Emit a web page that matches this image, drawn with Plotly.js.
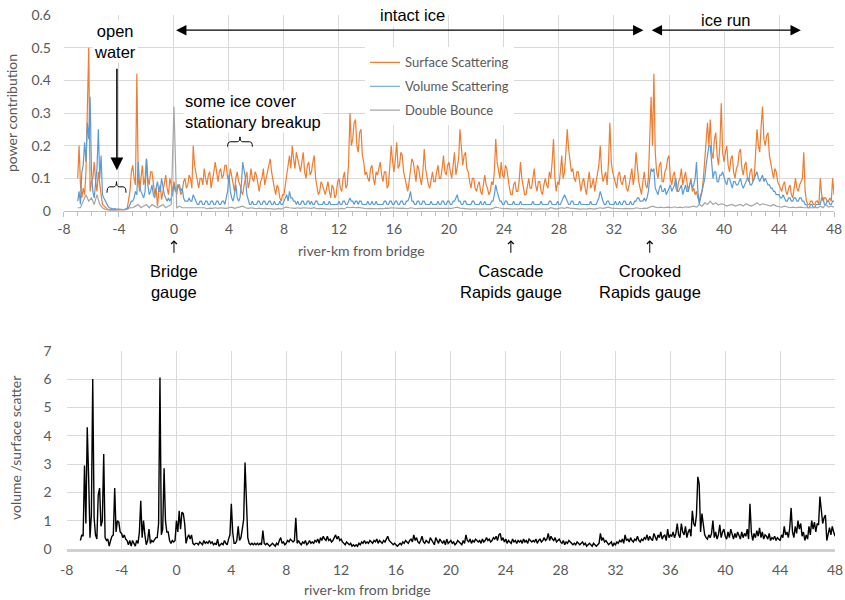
<!DOCTYPE html>
<html>
<head>
<meta charset="utf-8">
<script src="https://cdn.plot.ly/plotly-3.0.1.min.js"></script>
<style>
  html, body { margin: 0; padding: 0; background: #ffffff; }
  #chart { width: 845px; height: 600px; }
</style>
</head>
<body>
<div id="chart"></div>
<script>
// River-km sampling of the radar profiles
const kmStart = -7.0;
const fineStep = 0.1;    // surface, volume and ratio profiles (km)
const coarseStep = 0.2;  // double-bounce profile (km)

// Surface scattering power contribution, ten samples per river-km
const surface = [
  0.10, 0.20, 0.08, 0.04, 0.07, 0.05, 0.12, 0.30, 0.50, 0.06,
  0.09, 0.10, 0.15, 0.09, 0.06, 0.12, 0.075, 0.05, 0.02, 0.015,
  0.01, 0.008, 0.005, 0.004, 0.004, 0.005, 0.005, 0.004, 0.004, 0.005,
  0.005, 0.004, 0.004, 0.005, 0.006, 0.004, 0.008, 0.03, 0.06, 0.12,
  0.14, 0.10, 0.08, 0.42, 0.10, 0.06, 0.10, 0.14, 0.08, 0.10,
  0.16, 0.10, 0.08, 0.12, 0.12, 0.08, 0.05, 0.07, 0.015, 0.06,
  0.08, 0.035, 0.06, 0.09, 0.11, 0.07, 0.05, 0.10, 0.08, 0.06,
  0.09, 0.07, 0.05, 0.08, 0.07, 0.05, 0.06, 0.09, 0.10, 0.07,
  0.08, 0.11, 0.10, 0.07, 0.20, 0.14, 0.12, 0.09, 0.07, 0.10,
  0.10, 0.08, 0.13, 0.10, 0.08, 0.11, 0.12, 0.07, 0.09, 0.12,
  0.15, 0.11, 0.09, 0.12, 0.13, 0.10, 0.11, 0.14, 0.14, 0.10,
  0.09, 0.13, 0.11, 0.08, 0.06, 0.10, 0.12, 0.09, 0.08, 0.06,
  0.05, 0.08, 0.10, 0.12, 0.07, 0.09, 0.13, 0.10, 0.09, 0.12,
  0.11, 0.08, 0.06, 0.09, 0.10, 0.13, 0.08, 0.10, 0.12, 0.14,
  0.16, 0.12, 0.09, 0.07, 0.05, 0.08, 0.07, 0.04, 0.03, 0.05,
  0.05, 0.08, 0.12, 0.15, 0.17, 0.13, 0.20, 0.16, 0.13, 0.18,
  0.16, 0.13, 0.12, 0.15, 0.18, 0.12, 0.10, 0.14, 0.15, 0.11,
  0.12, 0.15, 0.17, 0.10, 0.08, 0.05, 0.06, 0.09, 0.08, 0.06,
  0.05, 0.07, 0.09, 0.06, 0.04, 0.08, 0.07, 0.04, 0.05, 0.09,
  0.10, 0.07, 0.06, 0.10, 0.12, 0.07, 0.08, 0.15, 0.30, 0.20,
  0.22, 0.27, 0.28, 0.20, 0.18, 0.24, 0.25, 0.17, 0.15, 0.11,
  0.12, 0.10, 0.09, 0.13, 0.14, 0.10, 0.08, 0.12, 0.11, 0.13,
  0.15, 0.11, 0.09, 0.12, 0.12, 0.07, 0.08, 0.14, 0.20, 0.15,
  0.12, 0.16, 0.21, 0.13, 0.14, 0.18, 0.17, 0.12, 0.10, 0.08,
  0.06, 0.09, 0.12, 0.16, 0.15, 0.11, 0.09, 0.14, 0.13, 0.10,
  0.08, 0.12, 0.19, 0.13, 0.10, 0.08, 0.07, 0.10, 0.12, 0.09,
  0.09, 0.12, 0.14, 0.10, 0.10, 0.13, 0.17, 0.12, 0.11, 0.14,
  0.15, 0.12, 0.10, 0.14, 0.18, 0.11, 0.13, 0.16, 0.25, 0.18,
  0.14, 0.17, 0.18, 0.13, 0.12, 0.09, 0.07, 0.10, 0.10, 0.07,
  0.06, 0.08, 0.09, 0.06, 0.05, 0.08, 0.11, 0.08, 0.07, 0.05,
  0.06, 0.09, 0.08, 0.12, 0.22, 0.15, 0.12, 0.10, 0.15, 0.11,
  0.10, 0.14, 0.13, 0.09, 0.07, 0.05, 0.05, 0.08, 0.09, 0.06,
  0.06, 0.09, 0.15, 0.10, 0.08, 0.05, 0.05, 0.08, 0.10, 0.07,
  0.07, 0.10, 0.13, 0.08, 0.06, 0.09, 0.09, 0.06, 0.05, 0.08,
  0.10, 0.08, 0.07, 0.12, 0.10, 0.15, 0.22, 0.10, 0.06, 0.09,
  0.08, 0.12, 0.17, 0.10, 0.12, 0.18, 0.25, 0.19, 0.16, 0.12,
  0.13, 0.10, 0.09, 0.12, 0.12, 0.08, 0.06, 0.09, 0.10, 0.07,
  0.05, 0.09, 0.12, 0.07, 0.08, 0.10, 0.06, 0.09, 0.11, 0.14,
  0.20, 0.12, 0.09, 0.11, 0.12, 0.08, 0.15, 0.27, 0.15, 0.12,
  0.10, 0.08, 0.07, 0.11, 0.12, 0.09, 0.08, 0.10, 0.11, 0.07,
  0.06, 0.08, 0.10, 0.13, 0.08, 0.11, 0.18, 0.12, 0.09, 0.07,
  0.05, 0.09, 0.12, 0.08, 0.07, 0.10, 0.25, 0.35, 0.20, 0.42,
  0.18, 0.12, 0.10, 0.14, 0.15, 0.09, 0.09, 0.12, 0.13, 0.16,
  0.17, 0.10, 0.08, 0.11, 0.12, 0.07, 0.06, 0.09, 0.10, 0.13,
  0.08, 0.10, 0.12, 0.09, 0.06, 0.08, 0.10, 0.06, 0.07, 0.05,
  0.06, 0.04, 0.03, 0.05, 0.06, 0.10, 0.15, 0.22, 0.27, 0.20,
  0.28, 0.18, 0.16, 0.22, 0.24, 0.17, 0.14, 0.20, 0.33, 0.18,
  0.15, 0.18, 0.20, 0.14, 0.12, 0.16, 0.17, 0.12, 0.10, 0.13,
  0.14, 0.18, 0.19, 0.13, 0.11, 0.14, 0.15, 0.10, 0.09, 0.12,
  0.13, 0.09, 0.10, 0.18, 0.25, 0.20, 0.18, 0.26, 0.32, 0.22,
  0.20, 0.23, 0.24, 0.17, 0.15, 0.12, 0.10, 0.13, 0.12, 0.09,
  0.08, 0.07, 0.06, 0.08, 0.09, 0.06, 0.05, 0.07, 0.08, 0.05,
  0.04, 0.07, 0.10, 0.07, 0.06, 0.08, 0.09, 0.10, 0.18, 0.06,
  0.03, 0.02, 0.02, 0.03, 0.03, 0.02, 0.02, 0.03, 0.03, 0.02,
  0.10, 0.05, 0.03, 0.04, 0.04, 0.03, 0.03, 0.04, 0.03, 0.10,
  0.05
];

// Volume scattering power contribution, ten samples per river-km
const volume = [
  0.03, 0.06, 0.02, 0.12, 0.14, 0.21, 0.15, 0.27, 0.22, 0.35,
  0.12, 0.06, 0.04, 0.08, 0.13, 0.25, 0.10, 0.17, 0.05, 0.04,
  0.03, 0.02, 0.015, 0.01, 0.008, 0.006, 0.006, 0.008, 0.005, 0.006,
  0.005, 0.004, 0.005, 0.004, 0.005, 0.006, 0.008, 0.01, 0.02, 0.03,
  0.03, 0.04, 0.06, 0.05, 0.15, 0.08, 0.06, 0.05, 0.04, 0.06,
  0.16, 0.08, 0.05, 0.06, 0.08, 0.05, 0.04, 0.07, 0.09, 0.06,
  0.06, 0.10, 0.07, 0.05, 0.04, 0.03, 0.04, 0.03, 0.04, 0.05,
  0.08, 0.06, 0.07, 0.08, 0.08, 0.06, 0.07, 0.04, 0.03, 0.03,
  0.03, 0.04, 0.03, 0.03, 0.05, 0.04, 0.03, 0.02, 0.02, 0.03,
  0.03, 0.02, 0.02, 0.03, 0.03, 0.02, 0.02, 0.03, 0.03, 0.02,
  0.02, 0.03, 0.03, 0.02, 0.02, 0.03, 0.03, 0.02, 0.04, 0.06,
  0.11, 0.06, 0.04, 0.03, 0.05, 0.08, 0.04, 0.03, 0.04, 0.08,
  0.15, 0.12, 0.10, 0.05, 0.03, 0.02, 0.02, 0.03, 0.02, 0.02,
  0.02, 0.03, 0.03, 0.02, 0.02, 0.03, 0.03, 0.02, 0.02, 0.03,
  0.03, 0.02, 0.02, 0.03, 0.02, 0.02, 0.02, 0.03, 0.02, 0.02,
  0.03, 0.04, 0.05, 0.03, 0.06, 0.04, 0.04, 0.03, 0.03, 0.02,
  0.03, 0.02, 0.02, 0.03, 0.03, 0.02, 0.02, 0.03, 0.03, 0.02,
  0.03, 0.02, 0.02, 0.03, 0.03, 0.02, 0.02, 0.02, 0.02, 0.03,
  0.02, 0.02, 0.02, 0.03, 0.02, 0.02, 0.02, 0.02, 0.02, 0.02,
  0.03, 0.02, 0.02, 0.03, 0.03, 0.02, 0.02, 0.03, 0.04, 0.03,
  0.03, 0.02, 0.03, 0.03, 0.02, 0.03, 0.03, 0.02, 0.02, 0.02,
  0.02, 0.03, 0.02, 0.02, 0.03, 0.02, 0.02, 0.03, 0.02, 0.02,
  0.02, 0.02, 0.02, 0.03, 0.03, 0.02, 0.02, 0.03, 0.03, 0.02,
  0.02, 0.03, 0.03, 0.02, 0.02, 0.03, 0.03, 0.02, 0.02, 0.03,
  0.03, 0.04, 0.06, 0.03, 0.03, 0.02, 0.02, 0.03, 0.03, 0.02,
  0.02, 0.03, 0.03, 0.02, 0.02, 0.02, 0.02, 0.03, 0.02, 0.02,
  0.02, 0.02, 0.03, 0.02, 0.02, 0.03, 0.03, 0.02, 0.02, 0.03,
  0.03, 0.02, 0.02, 0.03, 0.03, 0.04, 0.05, 0.03, 0.03, 0.02,
  0.02, 0.03, 0.03, 0.02, 0.02, 0.02, 0.02, 0.03, 0.03, 0.02,
  0.02, 0.02, 0.02, 0.03, 0.02, 0.02, 0.03, 0.02, 0.02, 0.02,
  0.02, 0.03, 0.03, 0.05, 0.08, 0.06, 0.04, 0.03, 0.03, 0.02,
  0.02, 0.03, 0.03, 0.02, 0.02, 0.02, 0.02, 0.03, 0.02, 0.02,
  0.02, 0.02, 0.03, 0.02, 0.02, 0.02, 0.02, 0.02, 0.02, 0.02,
  0.02, 0.03, 0.02, 0.02, 0.02, 0.02, 0.02, 0.03, 0.02, 0.02,
  0.02, 0.02, 0.02, 0.03, 0.03, 0.02, 0.02, 0.02, 0.02, 0.03,
  0.02, 0.02, 0.03, 0.04, 0.05, 0.04, 0.03, 0.02, 0.02, 0.03,
  0.03, 0.02, 0.02, 0.02, 0.02, 0.03, 0.02, 0.02, 0.02, 0.02,
  0.02, 0.02, 0.02, 0.03, 0.02, 0.02, 0.02, 0.02, 0.03, 0.04,
  0.06, 0.04, 0.03, 0.02, 0.02, 0.03, 0.03, 0.02, 0.02, 0.02,
  0.02, 0.03, 0.02, 0.02, 0.03, 0.02, 0.02, 0.03, 0.03, 0.02,
  0.02, 0.02, 0.03, 0.02, 0.02, 0.03, 0.03, 0.04, 0.04, 0.03,
  0.03, 0.03, 0.04, 0.03, 0.04, 0.06, 0.10, 0.13, 0.12, 0.13,
  0.07, 0.06, 0.05, 0.07, 0.08, 0.06, 0.06, 0.07, 0.05, 0.06,
  0.07, 0.08, 0.06, 0.07, 0.08, 0.10, 0.06, 0.06, 0.07, 0.08,
  0.05, 0.07, 0.08, 0.06, 0.06, 0.08, 0.09, 0.07, 0.08, 0.10,
  0.15, 0.06, 0.02, 0.04, 0.06, 0.08, 0.10, 0.14, 0.18, 0.20,
  0.20, 0.14, 0.10, 0.12, 0.12, 0.09, 0.09, 0.11, 0.11, 0.12,
  0.10, 0.09, 0.08, 0.10, 0.10, 0.08, 0.07, 0.09, 0.09, 0.08,
  0.08, 0.09, 0.10, 0.08, 0.07, 0.08, 0.09, 0.10, 0.10, 0.08,
  0.08, 0.09, 0.10, 0.11, 0.12, 0.10, 0.09, 0.10, 0.11, 0.09,
  0.10, 0.09, 0.08, 0.08, 0.07, 0.07, 0.06, 0.06, 0.05, 0.05,
  0.05, 0.04, 0.04, 0.05, 0.04, 0.03, 0.03, 0.04, 0.04, 0.03,
  0.03, 0.04, 0.04, 0.03, 0.03, 0.04, 0.04, 0.03, 0.03, 0.02,
  0.02, 0.01, 0.01, 0.02, 0.02, 0.01, 0.01, 0.02, 0.02, 0.02,
  0.02, 0.04, 0.04, 0.02, 0.02, 0.03, 0.03, 0.02, 0.02, 0.03,
  0.03
];

// Double-bounce power contribution, five samples per river-km
const doubleBounce = [
  0.01, 0.01, 0.03, 0.05, 0.03,
  0.04, 0.02, 0.05, 0.02, 0.01,
  0.005, 0.003, 0.003, 0.003, 0.003,
  0.003, 0.003, 0.003, 0.005, 0.01,
  0.01, 0.015, 0.02, 0.01, 0.015,
  0.02, 0.01, 0.02, 0.015, 0.01,
  0.015, 0.02, 0.01, 0.015, 0.02,
  0.32, 0.01, 0.015, 0.01, 0.01,
  0.01, 0.008, 0.01, 0.008, 0.01,
  0.008, 0.01, 0.007, 0.009, 0.008,
  0.01, 0.008, 0.01, 0.009, 0.008,
  0.01, 0.012, 0.008, 0.01, 0.012,
  0.015, 0.01, 0.008, 0.01, 0.008,
  0.007, 0.009, 0.007, 0.008, 0.007,
  0.008, 0.007, 0.006, 0.008, 0.006,
  0.01, 0.012, 0.01, 0.009, 0.008,
  0.01, 0.008, 0.01, 0.009, 0.01,
  0.008, 0.01, 0.007, 0.008, 0.007,
  0.006, 0.007, 0.006, 0.007, 0.006,
  0.007, 0.008, 0.007, 0.012, 0.01,
  0.012, 0.01, 0.011, 0.009, 0.008,
  0.007, 0.008, 0.007, 0.008, 0.007,
  0.008, 0.007, 0.009, 0.008, 0.01,
  0.009, 0.01, 0.008, 0.009, 0.008,
  0.007, 0.01, 0.008, 0.007, 0.008,
  0.008, 0.009, 0.007, 0.008, 0.007,
  0.007, 0.008, 0.007, 0.009, 0.008,
  0.009, 0.008, 0.01, 0.012, 0.009,
  0.008, 0.009, 0.007, 0.006, 0.007,
  0.006, 0.007, 0.006, 0.007, 0.006,
  0.006, 0.008, 0.012, 0.01, 0.008,
  0.007, 0.008, 0.006, 0.006, 0.007,
  0.006, 0.008, 0.006, 0.006, 0.007,
  0.006, 0.007, 0.006, 0.007, 0.006,
  0.007, 0.006, 0.01, 0.007, 0.006,
  0.008, 0.01, 0.008, 0.011, 0.009,
  0.008, 0.007, 0.008, 0.006, 0.007,
  0.006, 0.008, 0.007, 0.006, 0.008,
  0.01, 0.008, 0.009, 0.012, 0.009,
  0.008, 0.007, 0.008, 0.007, 0.008,
  0.007, 0.008, 0.007, 0.01, 0.008,
  0.007, 0.009, 0.008, 0.012, 0.015,
  0.012, 0.01, 0.012, 0.01, 0.011,
  0.012, 0.01, 0.013, 0.01, 0.012,
  0.01, 0.013, 0.011, 0.014, 0.015,
  0.012, 0.02, 0.015, 0.025, 0.02,
  0.03, 0.02, 0.025, 0.018, 0.022,
  0.02, 0.015, 0.018, 0.02, 0.015,
  0.018, 0.02, 0.015, 0.022, 0.018,
  0.015, 0.02, 0.025, 0.018, 0.022,
  0.02, 0.018, 0.015, 0.02, 0.015,
  0.013, 0.012, 0.015, 0.012, 0.01,
  0.012, 0.01, 0.011, 0.012, 0.01,
  0.01, 0.008, 0.01, 0.012, 0.01,
  0.015, 0.01, 0.02, 0.012, 0.015,
  0.012
];

// Volume / surface scattering ratio, ten samples per river-km
const ratio = [
  0.3, 0.5, 0.45, 2.95, 0.9, 4.3, 2.55, 0.4, 1.2, 6.0,
  1.1, 0.5, 0.35, 1.9, 2.15, 0.8, 1.0, 3.35, 0.4, 0.3,
  0.35, 0.1, 0.3, 0.45, 0.5, 2.15, 0.6, 1.0, 0.95, 0.6,
  0.55, 0.4, 0.5, 0.35, 0.3, 0.15, 0.3, 0.1, 0.3, 0.2,
  0.1, 0.3, 0.2, 0.6, 1.7, 0.4, 1.0, 0.5, 0.15, 0.3,
  0.7, 0.2, 0.3, 0.25, 0.35, 0.4, 0.4, 0.9, 6.05, 0.5,
  0.7, 2.85, 1.0, 0.6, 0.6, 0.3, 0.2, 0.3, 0.25, 0.3,
  1.0, 0.6, 1.35, 0.7, 1.3, 1.25, 0.9, 0.2, 0.4, 0.5,
  0.35, 0.5, 0.2, 0.15, 0.2, 0.2, 0.15, 0.25, 0.2, 0.15,
  0.3, 0.2, 0.25, 0.2, 0.3, 0.2, 0.25, 0.15, 0.2, 0.15,
  0.35, 0.1, 0.15, 0.2, 0.15, 0.3, 0.2, 0.15, 0.35, 0.5,
  1.6, 0.6, 0.2, 0.2, 0.3, 0.8, 0.3, 0.4, 0.7, 1.05,
  3.05, 1.5, 0.4, 0.2, 0.15, 0.2, 0.15, 0.2, 0.15, 0.2,
  0.15, 0.2, 0.15, 0.65, 0.2, 0.15, 0.2, 0.15, 0.1, 0.15,
  0.2, 0.15, 0.1, 0.2, 0.15, 0.3, 0.4, 0.2, 0.25, 0.15,
  0.2, 0.3, 0.25, 0.35, 0.3, 0.25, 0.3, 1.1, 0.2, 0.3,
  0.2, 0.15, 0.25, 0.2, 0.3, 0.15, 0.2, 0.3, 0.2, 0.25,
  0.2, 0.3, 0.25, 0.35, 0.2, 0.4, 0.3, 0.45, 0.35, 0.3,
  0.45, 0.3, 0.35, 0.25, 0.3, 0.4, 0.5, 0.35, 0.45, 0.3,
  0.35, 0.25, 0.2, 0.15, 0.25, 0.2, 0.15, 0.2, 0.1, 0.15,
  0.1, 0.15, 0.1, 0.2, 0.15, 0.25, 0.2, 0.3, 0.2, 0.25,
  0.2, 0.3, 0.25, 0.2, 0.3, 0.25, 0.35, 0.2, 0.3, 0.25,
  0.2, 0.3, 0.25, 0.35, 0.45, 0.3, 0.25, 0.2, 0.15, 0.2,
  0.15, 0.1, 0.15, 0.2, 0.15, 0.25, 0.2, 0.3, 0.25, 0.2,
  0.3, 0.35, 0.25, 0.5, 0.3, 0.4, 0.25, 0.2, 0.3, 0.45,
  0.25, 0.2, 0.3, 0.25, 0.2, 0.4, 0.3, 0.2, 0.15, 0.4,
  0.3, 0.2, 0.35, 0.25, 0.2, 0.3, 0.15, 0.35, 0.2, 0.25,
  0.3, 0.2, 0.25, 0.15, 0.2, 0.3, 0.25, 0.2, 0.15, 0.3,
  0.2, 0.5, 0.3, 0.25, 0.35, 0.2, 0.3, 0.25, 0.35, 0.3,
  0.25, 0.3, 0.2, 0.35, 0.25, 0.3, 0.4, 0.3, 0.35, 0.25,
  0.3, 0.4, 0.35, 0.45, 0.3, 0.5, 0.55, 0.3, 0.4, 0.25,
  0.35, 0.2, 0.3, 0.25, 0.2, 0.35, 0.25, 0.3, 0.2, 0.3,
  0.25, 0.3, 0.2, 0.35, 0.25, 0.3, 0.2, 0.35, 0.3, 0.25,
  0.3, 0.25, 0.35, 0.2, 0.3, 0.35, 0.25, 0.3, 0.4, 0.3,
  0.35, 0.55, 0.3, 0.45, 0.35, 0.3, 0.4, 0.25, 0.3, 0.35,
  0.25, 0.2, 0.3, 0.15, 0.25, 0.2, 0.3, 0.25, 0.2, 0.15,
  0.2, 0.15, 0.25, 0.2, 0.15, 0.2, 0.25, 0.15, 0.2, 0.1,
  0.15, 0.2, 0.15, 0.1, 0.2, 0.15, 0.1, 0.15, 0.2, 0.55,
  0.3, 0.4, 0.25, 0.3, 0.2, 0.15, 0.2, 0.25, 0.1, 0.2,
  0.15, 0.25, 0.2, 0.3, 0.25, 0.35, 0.2, 0.5, 0.3, 0.35,
  0.25, 0.4, 0.3, 0.25, 0.35, 0.3, 0.45, 0.3, 0.25, 0.35,
  0.3, 0.4, 0.35, 0.5, 0.3, 0.45, 0.35, 0.3, 0.55, 0.4,
  0.3, 0.5, 0.4, 0.6, 0.35, 0.45, 0.5, 0.3, 0.7, 0.4,
  0.5, 0.45, 0.6, 0.4, 0.55, 0.9, 0.5, 0.4, 0.9, 0.6,
  0.5, 0.8, 0.4, 0.6, 0.7, 0.45, 1.35, 0.9, 0.8, 1.2,
  2.55, 2.3, 0.6, 1.25, 0.9, 0.5, 0.4, 0.35, 0.5, 0.4,
  0.55, 1.0, 0.4, 0.6, 0.35, 0.5, 0.85, 0.4, 0.6, 0.7,
  0.45, 0.35, 0.6, 0.4, 0.7, 0.5, 0.35, 0.55, 0.4, 0.6,
  0.5, 0.35, 0.6, 0.4, 0.55, 0.45, 0.7, 0.35, 1.6, 0.6,
  0.3, 0.55, 0.4, 0.65, 0.45, 0.75, 0.4, 0.6, 0.35, 0.5,
  0.45, 0.35, 0.55, 0.3, 0.4, 0.35, 0.45, 0.3, 0.4, 0.35,
  0.3, 0.5, 0.4, 0.8, 0.5, 0.6, 0.4, 0.75, 1.45, 0.6,
  0.4, 0.8, 0.55, 1.0, 0.7, 0.9, 0.45, 0.6, 0.3, 0.5,
  0.35, 0.8, 0.5, 1.0, 0.7, 0.95, 0.6, 0.9, 0.85, 1.85,
  1.2, 0.9, 1.1, 1.2, 0.3, 0.6, 0.75, 0.5, 0.8, 0.6,
  0.45
];

// Axis ticks
const kmTicks = [-8, -4, 0, 4, 8, 12, 16, 20, 24, 28, 32, 36, 40, 44, 48];
const kmTickText = ['-8', '-4', '0', '4', '8', '12', '16', '20', '24', '28', '32', '36', '40', '44', '48'];
const powerTicks = [0, 0.1, 0.2, 0.3, 0.4, 0.5, 0.6];
const powerTickText = ['0', '0.1', '0.2', '0.3', '0.4', '0.5', '0.6'];
const ratioTicks = [0, 1, 2, 3, 4, 5, 6, 7];

// Series names, colours and sampling steps
const seriesNames = ['Surface Scattering', 'Volume Scattering', 'Double Bounce'];
const seriesColors = ['#ED7D31', '#5B9BD5', '#A5A5A5'];
const seriesSteps = [fineStep, fineStep, coarseStep];

// Gauge locations along the river
const gaugeKm = [0, 24.5, 34.6];
const gaugeNames = ['Bridge<br>gauge', 'Cascade<br>Rapids gauge', 'Crooked<br>Rapids gauge'];

const tickFont = { family: 'Lato, sans-serif', size: 14, color: '#595959' };
const noteFont = { family: 'Liberation Sans, Arial, sans-serif', size: 16.5, color: '#000000' };
const gridColor = '#d9d9d9';

const powerSeries = [surface, volume, doubleBounce];
const traces = powerSeries.map((vals, i) => ({
  type: 'scatter',
  mode: 'lines',
  name: seriesNames[i],
  legendgroup: 'g' + i,
  x0: kmStart,
  dx: seriesSteps[i],
  y: vals,
  line: { color: seriesColors[i], width: 1.2 },
  xaxis: 'x',
  yaxis: 'y',
  hoverinfo: 'skip'
}));

traces.push({
  type: 'scatter',
  mode: 'lines',
  name: 'volume /surface scatter',
  showlegend: false,
  x0: kmStart,
  dx: fineStep,
  y: ratio,
  line: { color: '#000000', width: 1.4 },
  xaxis: 'x2',
  yaxis: 'y2',
  hoverinfo: 'skip'
});

// Curly brace marking a reach, drawn in data coordinates
function brace(x0, x1, yBottom, yMid, yTop) {
  const xc = (x0 + x1) / 2;
  const d = 0.2;
  return {
    type: 'path',
    xref: 'x', yref: 'y',
    path: `M${x0},${yBottom} Q${x0},${yMid} ${x0 + d},${yMid} L${xc - d},${yMid} Q${xc},${yMid} ${xc},${yTop} ` +
          `Q${xc},${yMid} ${xc + d},${yMid} L${x1 - d},${yMid} Q${x1},${yMid} ${x1},${yBottom}`,
    line: { color: '#000000', width: 1 }
  };
}

// free text centred on its position
function label(text, x, y, xref, font, extra) {
  return Object.assign({
    text: text, x: x, y: y, xref: xref, yref: 'paper',
    xanchor: 'center', yanchor: 'middle', showarrow: false, font: font
  }, extra || {});
}

const annotations = [
  // reach labels
  label('open<br>water', -4.29, 0.93, 'x', noteFont, { bgcolor: '#ffffff', borderpad: 1 }),
  { text: '', x: -4.15, y: 0.125, ax: -4.15, ay: 0.44, xref: 'x', yref: 'y', axref: 'x', ayref: 'y',
    showarrow: true, arrowhead: 2, arrowsize: 1.7, arrowwidth: 1.5, arrowcolor: '#000000' },
  label('some ice cover<br>stationary breakup', 0.65, 0.815, 'x', noteFont,
    { xanchor: 'left', align: 'left', bgcolor: '#ffffff', borderpad: 1 }),
  label('intact ice', 17.38, 0.975, 'x', noteFont, { bgcolor: '#ffffff', borderpad: 2 }),
  { text: '', x: 0.15, y: 0.5535, ax: 34.25, ay: 0.5535, xref: 'x', yref: 'y', axref: 'x', ayref: 'y',
    showarrow: true, arrowside: 'end+start', arrowhead: 2, startarrowhead: 2, arrowsize: 1.6,
    startarrowsize: 1.6, arrowwidth: 1.3, arrowcolor: '#000000' },
  label('ice run', 40.15, 0.9667, 'x', noteFont, { bgcolor: '#ffffff', borderpad: 2 }),
  { text: '', x: 34.74, y: 0.5535, ax: 45.7, ay: 0.5535, xref: 'x', yref: 'y', axref: 'x', ayref: 'y',
    showarrow: true, arrowside: 'end+start', arrowhead: 2, startarrowhead: 2, arrowsize: 1.6,
    startarrowsize: 1.6, arrowwidth: 1.3, arrowcolor: '#000000' },
  // axis titles
  label('river-km from bridge', 13.67, 0.5817, 'x', tickFont),
  label('river-km from bridge', 13.96, 0.0183, 'x2', tickFont),
  label('power contribution', 0.0142, 0.8117, 'paper', tickFont, { textangle: -90 }),
  label('volume /surface scatter', 0.0178, 0.2533, 'paper', tickFont, { textangle: -90 })
];

// gauge markers below the upper axis: small upward arrow and name
gaugeKm.forEach((km, i) => {
  annotations.push({
    text: '', x: km, y: 0.5995, xref: 'x', yref: 'paper', ax: 0, ay: 14,
    showarrow: true, arrowhead: 4, arrowsize: 1.1, arrowwidth: 1, arrowcolor: '#000000'
  });
  annotations.push(label(gaugeNames[i], km, 0.5308, 'x', noteFont));
});

const layout = {
  width: 845,
  height: 600,
  margin: { l: 0, r: 0, t: 0, b: 0 },
  paper_bgcolor: '#ffffff',
  plot_bgcolor: '#ffffff',
  showlegend: true,
  legend: {
    x: 0.432, y: 0.921, xanchor: 'left', yanchor: 'top',
    bgcolor: '#ffffff', font: { family: 'Lato, sans-serif', size: 13, color: '#595959' },
    tracegroupgap: 4, itemwidth: 30
  },
  xaxis: {
    domain: [0.0757, 0.987], range: [-8, 48], anchor: 'y',
    tickmode: 'array', tickvals: kmTicks, ticktext: kmTickText,
    ticks: 'outside', ticklen: 5, tickcolor: '#bfbfbf',
    minor: { dtick: 1, tick0: 0, ticks: 'outside', ticklen: 4, tickcolor: '#bfbfbf', showgrid: false },
    showgrid: true, gridcolor: gridColor, gridwidth: 1,
    showline: true, linecolor: '#bfbfbf', linewidth: 1,
    zeroline: false, tickfont: tickFont, fixedrange: true
  },
  yaxis: {
    domain: [0.6483, 0.975], range: [0, 0.6], anchor: 'x',
    tickmode: 'array', tickvals: powerTicks, ticktext: powerTickText,
    showgrid: true, gridcolor: gridColor, gridwidth: 1,
    zeroline: false, showline: false, ticks: '', ticklabelstandoff: 12,
    tickfont: tickFont, fixedrange: true
  },
  xaxis2: {
    domain: [0.0789, 0.9882], range: [-8, 48], anchor: 'y2',
    tickmode: 'array', tickvals: kmTicks, ticktext: kmTickText,
    ticks: '', ticklabelstandoff: 7,
    showgrid: true, gridcolor: gridColor, gridwidth: 1,
    showline: true, linecolor: '#d0d0d0', linewidth: 2.5,
    zeroline: false, tickfont: tickFont, fixedrange: true
  },
  yaxis2: {
    domain: [0.085, 0.4155], range: [0, 7], anchor: 'x2',
    tickmode: 'array', tickvals: ratioTicks,
    showgrid: true, gridcolor: gridColor, gridwidth: 1,
    zeroline: false, showline: false, ticks: '', ticklabelstandoff: 14,
    tickfont: tickFont, fixedrange: true
  },
  shapes: [
    brace(-4.87, -3.49, 0.056, 0.074, 0.09),
    brace(3.9, 5.7, 0.197, 0.212, 0.227)
  ],
  annotations: annotations
};

Plotly.newPlot('chart', traces, layout, { staticPlot: true, displayModeBar: false });
</script>
</body>
</html>
